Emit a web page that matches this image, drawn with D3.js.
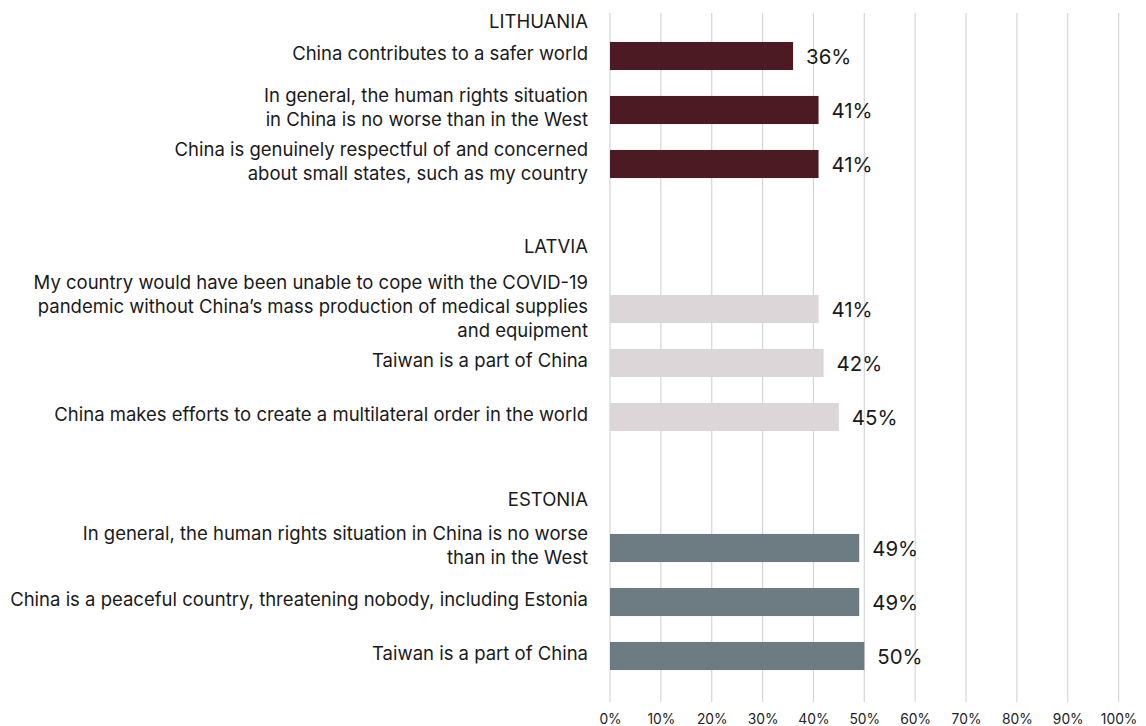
<!DOCTYPE html>
<html>
<head>
<meta charset="utf-8">
<script src="https://cdn.jsdelivr.net/npm/d3@7"></script>
<style>
  html, body { margin: 0; padding: 0; background: #ffffff; }
  svg { display: block; font-family: Inter, "Noto Sans", sans-serif; }
</style>
</head>
<body>
<div id="chart"></div>
<script>
// Country groups, in display order
const countries = ["LITHUANIA", "LATVIA", "ESTONIA"];

// Statements per country (each entry is the wrapped label lines)
const lithuaniaStatements = [
  ["China contributes to a safer world"],
  ["In general, the human rights situation", "in China is no worse than in the West"],
  ["China is genuinely respectful of and concerned", "about small states, such as my country"]
];
const latviaStatements = [
  ["My country would have been unable to cope with the COVID-19", "pandemic without China\u2019s mass production of medical supplies", "and equipment"],
  ["Taiwan is a part of China"],
  ["China makes efforts to create a multilateral order in the world"]
];
const estoniaStatements = [
  ["In general, the human rights situation in China is no worse", "than in the West"],
  ["China is a peaceful country, threatening nobody, including Estonia"],
  ["Taiwan is a part of China"]
];

// Share of respondents agreeing (%)
const lithuaniaValues = [36, 41, 41];
const latviaValues = [41, 42, 45];
const estoniaValues = [49, 49, 50];

const countryColors = ["#4b1a22", "#ddd6d9", "#6c7c82"];
const tickValues = [0, 10, 20, 30, 40, 50, 60, 70, 80, 90, 100];

const statementSets = [lithuaniaStatements, latviaStatements, estoniaStatements];
const valueSets = [lithuaniaValues, latviaValues, estoniaValues];

const W = 1146, H = 726;
const plotLeft = 610, plotRight = 1118.6;
const gridTop = 13;
const labelRight = 588;
const rowStep = 54;          // distance between statement rows
const lineHeight = 24;       // label line spacing
const groupGap = 83;         // last row of a group to next header
const labelSize = 18.5;

const svg = d3.select("#chart").append("svg")
  .attr("width", W).attr("height", H);

// Lay out headers and rows top-down; row height grows with wrapped lines
const headers = [];
const rows = [];
let y = 22;
countries.forEach((country, gi) => {
  headers.push({ country, y });
  const stmts = statementSets[gi];
  y += 20 + 14 * stmts[0].length;
  stmts.forEach((lines, i) => {
    rows.push({ id: country + "-" + i, country, gi, lines, value: valueSets[gi][i], center: y });
    if (i < stmts.length - 1) y += rowStep;
  });
  y += groupGap;
});
const gridBottom = rows[rows.length - 1].center + 46;

const x = d3.scaleLinear().domain([0, 100]).range([plotLeft, plotRight]);
const yPos = d3.scaleOrdinal().domain(rows.map(r => r.id)).range(rows.map(r => r.center));
const color = d3.scaleOrdinal().domain(countries).range(countryColors);
const barH = rowStep * 0.52;

// Vertical gridlines
svg.append("g").selectAll("line")
  .data(tickValues)
  .join("line")
  .attr("x1", d => x(d)).attr("x2", d => x(d))
  .attr("y1", gridTop).attr("y2", gridBottom)
  .attr("stroke", "#d6d6d6").attr("stroke-width", 1.2);

// Bottom axis labels
const axis = d3.axisBottom(x).tickValues(tickValues).tickFormat(d => d + "%").tickSize(0).tickPadding(0);
const axisG = svg.append("g").attr("transform", `translate(0, ${gridBottom + 17})`).call(axis);
axisG.select(".domain").remove();
axisG.selectAll("text")
  .attr("font-family", "Inter, 'Noto Sans', sans-serif")
  .attr("font-size", 13.8).attr("fill", "#222")
  .attr("dy", "0.35em");

// Bars
svg.append("g").selectAll("rect")
  .data(rows)
  .join("rect")
  .attr("x", x(0))
  .attr("y", d => yPos(d.id) - barH / 2)
  .attr("width", d => x(d.value) - x(0))
  .attr("height", barH)
  .attr("fill", d => color(d.country));

// Value labels
svg.append("g").selectAll("text")
  .data(rows)
  .join("text")
  .attr("x", d => x(d.value) + 13)
  .attr("y", d => yPos(d.id) + 1)
  .attr("dy", "0.35em")
  .attr("font-size", 20.4)
  .attr("fill", "#1a1a1a")
  .text(d => d.value + "%");

// Country headers
svg.append("g").selectAll("text")
  .data(headers)
  .join("text")
  .attr("x", labelRight)
  .attr("y", d => d.y)
  .attr("dy", "0.35em")
  .attr("text-anchor", "end")
  .attr("font-size", labelSize)
  .attr("fill", "#1a1a1a")
  .text(d => d.country);

// Statement labels
const lab = svg.append("g").selectAll("text")
  .data(rows)
  .join("text")
  .attr("text-anchor", "end")
  .attr("font-size", labelSize)
  .attr("fill", "#1a1a1a");
lab.each(function(d) {
  const n = d.lines.length;
  const first = yPos(d.id) - 2 - (n - 1) * lineHeight / 2;
  d3.select(this).selectAll("tspan")
    .data(d.lines)
    .join("tspan")
    .attr("x", labelRight)
    .attr("y", (t, i) => first + i * lineHeight)
    .attr("dy", "0.35em")
    .text(t => t);
});
</script>
</body>
</html>
